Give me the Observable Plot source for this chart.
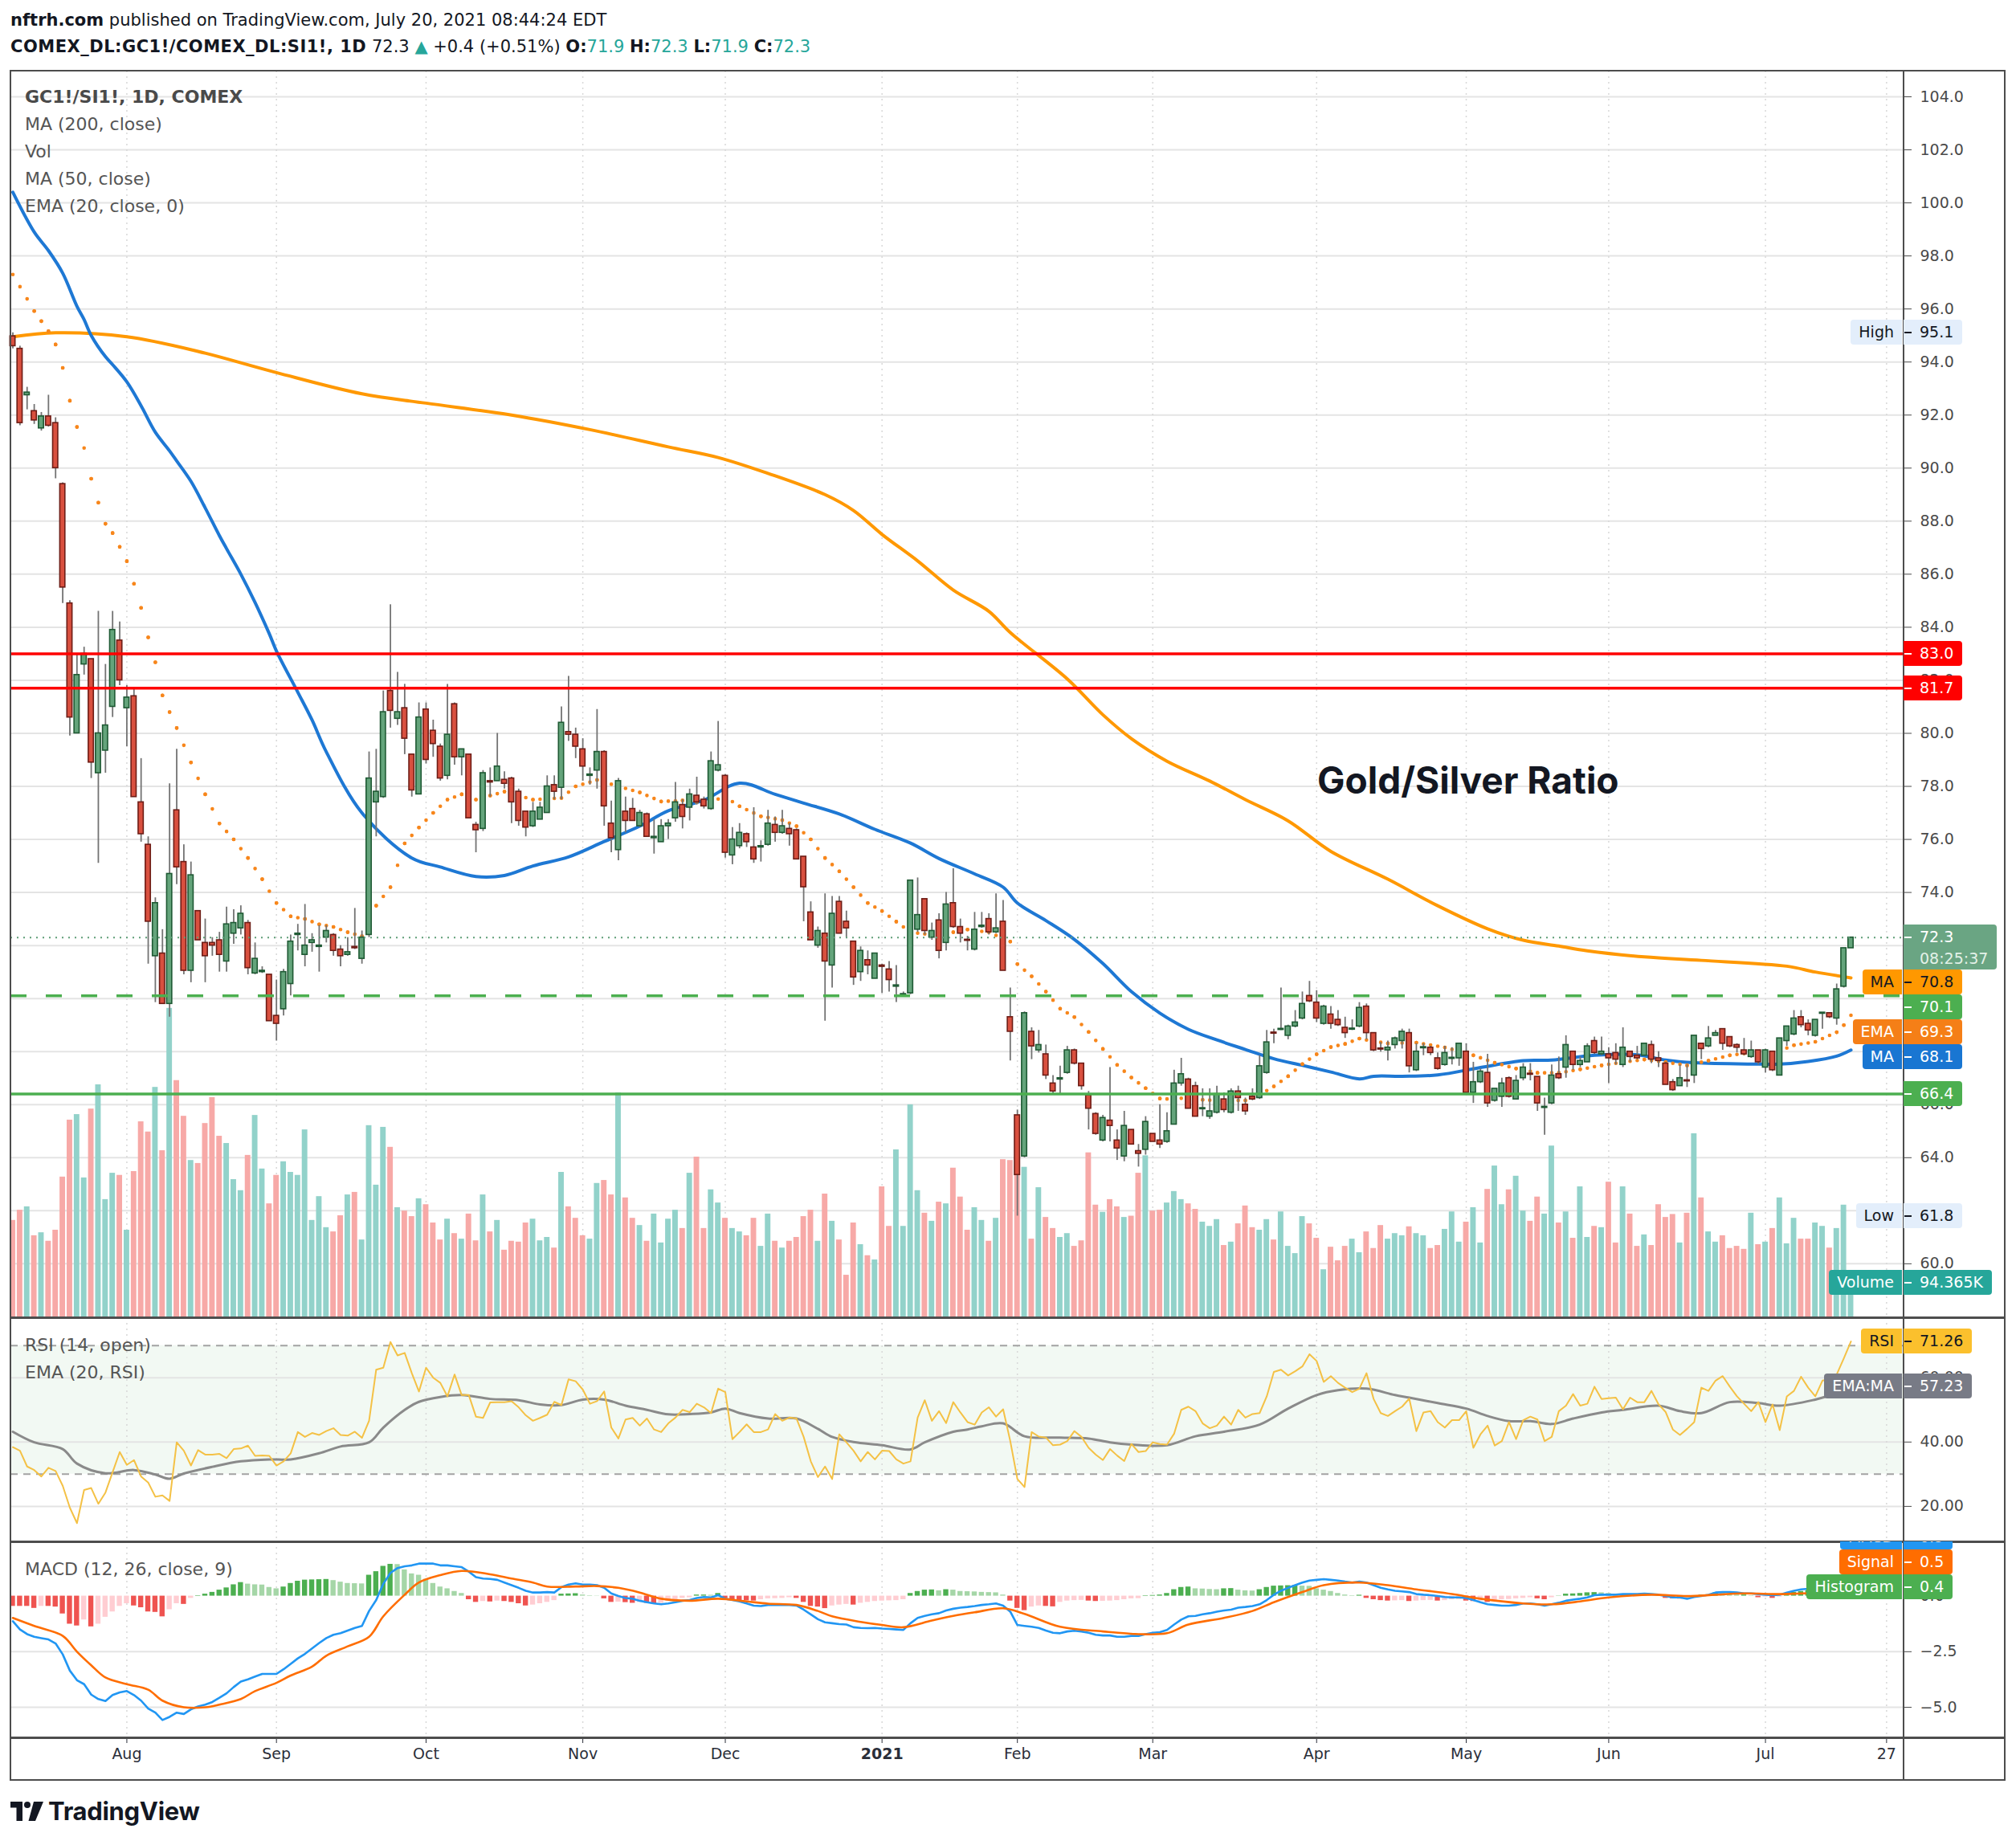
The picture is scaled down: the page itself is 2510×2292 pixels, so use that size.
<!DOCTYPE html>
<html>
<head>
<meta charset="utf-8">
<title>Gold/Silver Ratio</title>
<script src="https://cdn.jsdelivr.net/npm/d3@7"></script>
<script src="https://cdn.jsdelivr.net/npm/@observablehq/plot@0.6"></script>
<style>
html,body{margin:0;padding:0;background:#fff;}
#page{position:relative;width:2510px;height:2292px;overflow:hidden;font-family:"DejaVu Sans",Verdana,sans-serif;color:#131722;}
</style>
</head>
<body>
<div id="page"></div>
<script>
// ---------------- DATA ----------------
const OPEN = [
94.97,94.5,92.75,92.15,91.5,91.95,91.7,89.4,84.9,80.0,
82.6,82.8,78.5,79.35,81.0,83.5,80.95,81.4,77.4,75.8,
71.6,71.7,69.8,77.1,75.15,71.05,73.3,72.1,72.1,72.2,
71.4,72.45,72.65,72.85,70.95,71.0,70.9,69.35,69.6,70.55,
72.4,71.65,72.1,71.95,72.3,72.4,71.85,71.65,71.95,71.5,
72.4,77.4,77.6,81.6,80.55,80.95,79.2,77.7,80.9,80.1,
79.5,78.4,81.1,79.1,79.2,76.55,76.4,78.2,78.2,78.25,
78.3,77.8,77.05,76.5,76.75,77.0,78.05,77.95,80.05,79.95,
79.4,78.4,78.6,79.3,76.6,75.6,77.05,77.15,76.5,76.95,
76.05,75.9,76.5,76.8,77.3,77.2,77.65,77.5,77.15,78.6,
78.4,75.4,75.75,76.2,75.7,75.7,75.8,76.55,76.25,76.4,
76.35,75.35,73.25,72.0,72.45,71.25,73.65,72.9,72.15,71.0,
71.45,70.75,71.25,71.1,70.45,70.12,70.2,72.6,73.75,72.3,
72.95,72.1,73.6,72.7,72.22,71.85,72.7,73.0,72.5,72.9,
69.3,65.6,64.05,68.75,68.05,67.9,66.8,66.95,67.2,68.05,
67.55,66.35,65.65,64.65,65.4,64.65,64.05,65.05,64.25,64.3,
64.9,64.65,64.6,65.25,66.8,66.95,66.7,65.83,65.55,65.7,
66.2,65.7,66.5,66.0,66.3,66.25,67.2,68.72,68.82,68.6,
68.95,69.25,70.1,69.85,69.05,69.4,69.2,68.9,68.83,68.95,
69.7,68.7,68.12,68.05,68.25,68.4,68.7,67.3,68.13,68.15,
67.75,67.5,67.73,67.75,68.0,66.45,66.85,67.2,66.15,66.3,
67.0,66.2,67.0,67.17,67.05,65.88,66.05,67.15,67.4,68.0,
67.5,67.6,68.4,67.9,67.9,67.95,67.5,68.0,67.85,67.85,
68.25,67.75,67.55,66.85,66.7,66.92,67.1,68.3,68.2,68.6,
68.85,68.55,68.25,68.05,67.8,68.05,67.4,68.0,67.1,68.4,
68.65,69.3,69.05,68.6,69.43,69.45,69.25,70.45,71.9];
const HIGH = [
95.1,94.6,93.05,92.4,92.1,92.75,91.9,89.45,85.0,83.0,
83.25,82.8,84.6,82.6,84.6,84.2,81.8,81.7,79.05,76.1,
73.8,72.6,78.1,79.4,75.8,75.15,73.3,73.0,72.3,72.5,
73.45,73.35,73.5,72.95,72.1,71.2,70.9,70.7,71.1,72.4,
72.8,73.55,72.45,72.75,72.75,72.45,72.0,72.3,73.4,72.55,
79.3,79.4,81.6,84.85,82.3,81.85,79.2,81.15,81.15,80.5,
79.6,81.85,81.15,79.4,79.2,76.65,78.6,78.7,80.0,78.55,
78.35,77.9,77.05,77.4,77.4,78.4,78.4,81.0,82.15,80.2,
79.8,78.7,80.9,79.35,77.45,78.3,77.6,77.55,77.1,77.0,
76.75,76.75,76.75,78.15,77.5,77.9,78.35,77.6,79.3,80.45,
78.45,76.45,76.6,76.25,77.2,75.95,77.1,76.85,77.1,76.6,
76.4,75.35,73.65,72.7,73.95,73.85,73.85,73.3,72.15,71.95,
71.8,71.7,71.3,71.4,71.25,70.25,74.45,74.55,73.75,72.85,
73.2,74.0,74.9,73.0,72.35,73.25,73.25,73.2,73.95,73.7,
70.4,65.8,69.5,68.9,68.8,68.25,67.1,67.45,68.2,68.1,
67.55,66.5,65.7,65.6,67.4,65.05,65.75,65.05,64.5,65.55,
64.9,66.0,65.7,67.3,67.75,67.0,66.85,66.6,66.6,66.7,
66.45,66.6,66.7,66.25,66.6,67.85,68.8,68.85,70.4,69.0,
69.55,70.25,70.65,70.3,69.75,69.7,69.55,69.3,69.2,69.85,
69.8,68.7,68.35,68.4,68.55,68.85,68.85,68.3,68.3,68.2,
67.95,68.2,68.15,68.3,68.3,67.6,67.35,67.9,66.6,67.0,
67.05,67.1,67.55,67.55,67.05,66.25,67.5,67.8,68.6,68.0,
67.8,68.3,68.55,68.55,68.15,68.3,68.9,68.0,68.2,68.3,
68.4,68.0,67.6,66.95,67.5,67.5,68.6,68.3,68.95,68.8,
68.85,68.55,68.3,68.5,68.4,68.05,68.1,68.0,68.5,68.95,
69.55,69.55,69.2,69.2,69.47,69.47,70.55,71.9,72.3];
const LOW = [
94.5,91.6,92.2,91.65,91.4,91.55,89.6,84.9,79.9,80.0,
82.2,78.3,75.1,78.5,80.6,81.8,79.5,77.6,75.9,71.3,
69.85,69.8,69.3,74.3,70.9,70.6,72.2,70.6,71.6,71.0,
71.0,72.05,72.4,70.9,70.9,70.95,69.15,68.4,69.35,70.1,
71.8,71.2,71.75,71.0,72.1,71.6,71.2,71.6,71.85,71.3,
72.3,76.1,77.55,80.2,80.3,79.2,77.6,77.7,78.85,79.1,
78.2,78.25,78.8,78.4,76.8,75.5,76.3,77.6,78.2,77.9,
76.6,76.5,76.1,76.45,76.75,77.0,77.5,77.5,79.7,79.05,
78.2,78.05,77.9,76.5,75.5,75.2,76.25,76.7,76.45,76.1,
75.45,75.9,76.0,76.65,76.4,76.7,77.3,77.15,77.1,78.55,
75.3,75.05,75.65,75.7,75.1,75.15,75.75,75.9,76.2,75.75,
75.25,72.9,72.2,71.9,69.15,70.4,72.45,72.3,70.5,70.65,
70.9,70.75,70.2,70.25,69.85,70.1,70.15,72.5,72.4,72.2,
71.5,71.8,72.65,72.1,71.8,71.8,72.65,72.4,72.45,71.05,
67.65,61.8,64.0,67.7,67.95,66.95,66.4,66.4,67.15,67.5,
66.55,65.05,64.85,64.6,64.6,63.9,63.85,64.5,63.65,64.1,
64.6,64.35,64.55,65.25,66.7,65.85,65.55,65.55,65.45,65.65,
65.7,65.65,65.75,65.6,66.15,66.2,67.15,68.3,68.8,68.45,
68.9,69.2,69.85,69.1,69.0,68.85,68.95,68.5,68.8,68.9,
68.45,68.0,67.98,67.65,68.1,68.1,67.2,67.25,67.85,67.85,
67.3,67.45,67.5,67.45,66.45,66.05,66.8,65.9,66.1,65.9,
66.25,66.2,66.9,66.9,65.75,64.85,66.0,66.95,67.0,67.3,
67.4,67.6,67.9,67.85,66.8,67.5,67.4,67.6,67.7,67.85,
67.55,67.4,66.75,66.5,66.7,66.65,66.8,67.7,68.15,68.6,
68.05,68.15,67.95,67.85,67.75,67.5,67.2,67.25,67.1,68.2,
68.6,68.9,68.6,68.55,68.85,69.25,69.0,70.4,71.9];
const CLOSE = [
94.6,91.7,92.85,91.8,91.95,91.6,90.0,85.5,80.6,82.2,
83.0,78.9,80.0,80.3,83.9,82.0,81.35,77.6,76.2,72.9,
73.6,69.8,74.7,74.95,71.05,74.65,72.2,71.6,72.0,71.65,
72.8,72.85,73.2,71.15,71.5,71.05,69.15,69.05,71.0,72.15,
72.45,72.0,72.2,72.0,72.55,71.8,71.6,71.75,71.9,72.3,
78.3,77.8,80.8,80.85,80.8,79.8,77.85,80.6,79.0,79.6,
78.3,79.95,79.1,79.4,76.8,76.35,78.5,78.15,78.75,78.1,
77.4,76.7,76.45,77.05,77.2,78.0,77.8,80.4,79.95,79.5,
78.75,78.45,79.3,77.25,76.05,78.2,76.7,76.7,77.0,76.1,
76.1,76.5,76.6,77.4,76.85,77.7,77.4,77.25,78.95,78.8,
75.5,76.0,76.25,75.9,75.25,75.75,76.6,76.25,76.5,76.2,
75.25,74.2,72.2,72.55,71.4,73.2,72.45,72.65,70.8,71.8,
71.25,71.7,71.2,70.7,70.5,70.17,74.45,73.15,72.55,72.55,
71.8,73.55,72.7,72.45,72.18,72.6,72.75,72.5,72.65,71.05,
68.75,63.35,69.45,68.2,68.25,67.1,66.5,67.0,68.05,67.55,
66.7,65.85,64.9,65.5,65.2,64.35,65.2,64.5,64.15,65.35,
64.6,64.5,65.0,66.8,67.15,65.85,65.55,65.87,65.75,66.4,
65.8,66.5,66.25,65.75,66.2,67.45,68.35,68.68,68.86,68.95,
69.1,69.8,69.9,69.25,69.7,69.05,69.0,68.7,68.87,69.65,
68.7,68.05,68.08,68.15,68.5,68.75,67.45,68.0,68.17,67.95,
67.35,67.95,67.77,68.3,66.45,66.85,67.25,66.05,66.6,66.8,
66.3,66.9,67.4,67.13,66.05,65.92,67.1,67.0,68.25,67.5,
67.65,68.2,67.95,68.0,67.75,67.7,68.15,67.8,67.75,68.3,
67.7,67.65,66.75,66.55,67.0,66.88,68.6,68.1,68.5,68.7,
68.3,68.2,68.15,67.9,68.05,67.6,68.05,67.3,68.5,68.95,
69.25,69.0,68.8,69.2,69.47,69.3,70.35,71.9,72.3];
// volume, thousands
const VOLUME = [
229,253,261,193,200,180,206,331,465,478,
329,491,548,278,340,335,206,344,461,437,
542,393,728,558,474,370,363,457,518,427,
410,325,299,382,476,350,268,335,367,342,
335,442,229,285,212,202,240,289,295,183,
452,312,448,401,259,251,238,280,266,223,
183,232,198,185,244,181,289,202,229,159,
180,178,223,232,181,189,164,342,261,234,
193,185,316,323,289,529,282,234,217,180,
244,176,232,253,210,340,378,210,301,270,
234,210,202,193,234,168,244,180,164,180,
189,238,253,180,291,227,183,100,223,172,
146,136,308,215,395,215,501,299,246,227,
272,268,352,284,206,259,229,180,234,372,
370,357,354,185,306,236,210,189,198,168,
181,388,265,248,278,261,236,239,340,381,
251,253,270,297,278,268,255,225,215,231,
170,178,221,263,212,206,231,183,249,168,
151,238,221,187,113,166,134,168,185,153,
202,163,217,185,198,193,214,198,193,163,
170,208,249,178,225,259,176,302,357,266,
301,333,251,227,284,244,404,223,249,187,
308,189,215,212,319,176,308,244,168,195,
170,266,236,243,176,246,433,282,202,178,
193,163,168,161,246,172,178,210,282,174,
234,185,185,223,215,164,210,265,94.365];
// moving averages sampled at bar indexes
const MA200_IDX = [0,6,16,26,37,49,58,70,81,92,99,106,114,118,122,127,132,137,140,148,153,157,162,168,173,179,185,193,200,207,212,217,221,229,237,249,253,258];
const MA200_VAL = [94.95,95.1,94.95,94.4,93.6,92.8,92.45,92.0,91.45,90.8,90.4,89.8,89.0,88.4,87.5,86.5,85.4,84.6,83.8,82.05,80.7,79.8,78.95,78.2,77.5,76.7,75.55,74.5,73.5,72.63,72.2,71.98,71.8,71.57,71.44,71.22,71.0,70.78];
const MA50_IDX = [0,3,5,7,9,10,11,13,14,16,18,20,22,23,25,27,29,30,32,34,36,37,40,42,44,49,56,60,65,69,73,78,83,88,92,97,102,107,111,116,121,126,130,135,139,141,145,149,153,157,161,165,169,173,177,181,185,189,191,195,200,206,212,216,222,228,232,236,244,248,252,256,258];
const MA50_VAL = [100.4,98.9,98.2,97.35,96.1,95.6,95.0,94.2,93.9,93.25,92.35,91.35,90.65,90.27,89.5,88.5,87.45,86.96,86.0,84.93,83.75,83.1,81.55,80.5,79.3,77.0,75.3,74.96,74.6,74.64,75.0,75.34,75.92,76.5,77.08,77.48,78.12,77.7,77.37,76.96,76.38,75.86,75.28,74.7,74.2,73.6,72.94,72.23,71.32,70.26,69.45,68.84,68.44,68.08,67.73,67.48,67.23,66.97,67.07,67.07,67.12,67.4,67.66,67.68,67.86,67.88,67.68,67.58,67.53,67.53,67.63,67.83,68.06];
const EMA20_IDX = [0,3,4,5,6,7,8,9,10,11,12,13,14,15,16,17,18,19,20,21,22,23,25,27,29,31,33,35,37,39,41,43,45,47,49,51,53,55,57,59,61,63,65,67,69,73,77,79,82,85,88,91,94,97,100,102,105,108,110,112,114,116,118,120,122,124,126,129,132,134,137,140,141,143,145,147,149,151,153,155,157,159,161,163,165,167,169,171,173,175,177,179,181,183,185,187,189,191,193,197,201,205,208,211,214,217,220,223,226,229,232,235,238,241,244,247,250,253,256,257,258];
const EMA20_VAL = [97.3,95.92,95.54,95.16,94.66,93.78,92.54,91.55,90.76,89.6,88.7,87.9,87.55,87.03,86.49,85.64,84.73,83.62,82.68,81.43,80.8,80.2,78.9,77.7,76.6,76.0,75.3,74.5,73.6,73.1,73.0,72.8,72.7,72.5,72.35,73.5,74.2,75.85,76.45,77.0,77.5,77.7,77.5,77.65,77.8,77.5,77.56,78.0,78.24,78.0,77.77,77.43,77.47,77.37,77.6,77.25,76.87,76.73,76.5,76.0,75.3,74.8,74.2,73.6,73.3,72.9,72.5,72.4,72.5,72.6,72.5,72.15,71.3,70.84,70.26,69.62,69.3,68.74,68.1,67.5,67.02,66.62,66.23,66.2,66.28,66.18,66.16,66.16,66.16,66.37,66.69,67.07,67.53,67.9,68.17,68.29,68.49,68.39,68.31,68.34,68.16,67.86,67.58,67.36,67.2,67.2,67.33,67.48,67.6,67.7,67.6,67.48,67.66,67.86,67.96,67.93,68.24,68.37,68.73,69.0,69.37];
// RSI(14, open) per bar and its EMA(20) sampled
const RSI = [
38.4,37.3,32.4,31.3,29.3,32.0,31.0,26.4,19.6,14.8,
25.1,25.7,20.8,24.3,30.6,36.9,32.9,34.4,29.3,27.4,
23.0,23.4,21.7,39.9,37.3,32.7,37.5,36.1,36.1,36.3,
35.0,37.8,38.0,38.9,35.7,35.8,35.7,32.7,34.0,36.5,
43.1,41.6,42.8,42.2,43.4,44.3,42.2,42.0,43.2,41.3,
46.6,62.5,63.1,71.1,66.9,67.7,61.4,55.7,63.1,60.0,
58.4,54.2,61.0,54.6,54.6,47.9,47.5,52.3,52.4,52.4,
52.7,50.8,48.3,46.6,47.5,48.5,52.5,51.5,59.5,58.9,
56.3,51.9,52.7,55.7,44.5,41.1,47.0,47.5,45.1,47.3,
43.9,43.1,45.8,47.6,50.0,49.3,51.9,50.8,49.0,56.6,
55.5,40.9,43.1,45.5,43.1,43.1,43.9,48.7,46.6,47.6,
47.3,41.6,34.0,29.1,32.4,28.5,42.4,39.9,37.3,34.0,
36.9,34.6,37.3,37.2,34.6,33.3,34.0,47.6,53.0,46.6,
49.6,45.9,52.4,49.2,46.2,45.4,49.2,50.8,47.9,50.2,
40.3,28.5,26.0,43.1,41.7,41.4,39.0,39.2,40.3,43.4,
41.6,38.2,36.1,34.4,37.8,35.8,34.1,39.4,36.9,37.2,
39.9,39.4,39.2,42.6,50.0,51.0,49.6,45.8,44.3,45.1,
47.9,45.4,50.0,47.6,48.7,49.0,54.2,61.8,62.5,60.7,
62.0,63.5,67.3,65.2,58.7,60.5,58.4,56.9,55.5,56.6,
61.4,53.4,49.0,48.1,49.6,51.0,53.5,43.4,49.2,49.6,
46.2,44.5,46.8,46.8,49.6,38.2,42.4,45.1,38.9,40.3,
46.2,40.9,46.8,47.9,47.0,40.3,41.6,49.6,51.3,54.9,
51.3,51.9,57.2,53.4,53.6,53.8,50.2,53.8,52.4,52.4,
55.9,51.7,49.3,43.9,42.2,44.1,46.2,56.9,55.9,59.1,
60.5,57.2,54.2,51.9,49.6,52.4,46.2,51.7,43.7,54.2,
55.9,60.3,56.9,54.2,59.1,59.5,61.0,66.0,71.26];
const RSI_EMA_IDX = [0,3,7,9,13,17,20,22,24,28,32,36,39,43,46,50,52,55,57,60,63,67,71,74,77,80,83,86,89,92,95,98,100,102,106,110,113,115,118,122,126,128,132,134,136,139,142,147,151,154,157,162,166,170,175,179,183,186,190,194,196,200,204,207,210,213,216,219,223,226,231,234,237,241,245,248,253,254,255,256,257,258];
const RSI_EMA_VAL = [43.2,39.9,37.8,33.3,30.3,31.3,29.9,28.6,30.2,32.3,34.0,34.6,34.6,36.5,38.6,39.9,44.5,50.0,52.5,54.0,54.6,53.4,53.0,51.7,51.5,53.2,53.2,51.3,50.0,48.6,48.7,49.2,50.4,49.0,47.3,47.3,44.1,41.6,40.0,39.0,37.7,39.9,43.2,43.9,44.9,45.8,41.8,41.4,41.1,39.9,39.2,39.0,41.8,43.2,45.4,50.4,54.6,56.1,56.6,54.6,53.8,52.1,50.4,48.1,46.5,46.5,45.6,47.3,49.2,50.0,51.3,49.6,49.0,52.4,52.1,51.3,53.2,53.8,54.5,55.3,56.2,57.23];
// MACD(12,26,9)
const MACD = [
-1.13,-1.50,-1.71,-1.83,-1.89,-1.95,-2.13,-2.62,-3.35,-3.78,
-3.96,-4.43,-4.63,-4.72,-4.45,-4.33,-4.27,-4.45,-4.70,-5.06,
-5.24,-5.57,-5.43,-5.24,-5.30,-5.09,-4.96,-4.88,-4.76,-4.57,
-4.37,-4.09,-3.84,-3.74,-3.62,-3.50,-3.50,-3.50,-3.29,-3.05,
-2.80,-2.60,-2.35,-2.11,-1.89,-1.74,-1.67,-1.55,-1.43,-1.34,
-0.67,-0.18,0.55,1.04,1.26,1.34,1.38,1.46,1.46,1.46,
1.38,1.38,1.34,1.30,1.10,0.85,0.79,0.77,0.73,0.61,
0.49,0.37,0.24,0.16,0.16,0.18,0.16,0.40,0.52,0.57,
0.52,0.52,0.49,0.37,0.12,0.00,-0.09,-0.12,-0.21,-0.28,
-0.33,-0.37,-0.33,-0.28,-0.21,-0.18,-0.09,-0.04,-0.06,0.04,
-0.12,-0.18,-0.24,-0.33,-0.43,-0.45,-0.40,-0.40,-0.40,-0.40,
-0.43,-0.61,-0.82,-1.04,-1.18,-1.22,-1.26,-1.28,-1.40,-1.43,
-1.44,-1.43,-1.46,-1.48,-1.50,-1.52,-1.22,-0.98,-0.89,-0.82,
-0.77,-0.65,-0.57,-0.52,-0.49,-0.45,-0.40,-0.37,-0.33,-0.43,
-0.70,-1.30,-1.34,-1.38,-1.43,-1.55,-1.65,-1.67,-1.59,-1.56,
-1.59,-1.65,-1.74,-1.77,-1.77,-1.83,-1.83,-1.79,-1.79,-1.71,
-1.65,-1.62,-1.52,-1.28,-1.06,-0.91,-0.89,-0.82,-0.77,-0.70,
-0.65,-0.61,-0.52,-0.49,-0.45,-0.37,-0.18,0.06,0.24,0.37,
0.49,0.61,0.70,0.73,0.76,0.73,0.70,0.65,0.61,0.65,
0.61,0.49,0.37,0.30,0.24,0.21,0.18,0.09,0.06,0.04,
0.00,-0.04,-0.06,-0.06,-0.09,-0.18,-0.28,-0.37,-0.40,-0.43,
-0.43,-0.40,-0.33,-0.33,-0.37,-0.43,-0.37,-0.30,-0.21,-0.16,
-0.12,-0.06,0.04,0.06,0.06,0.06,0.09,0.09,0.09,0.11,
0.09,0.06,0.00,-0.06,-0.06,-0.12,-0.04,0.00,0.06,0.16,
0.18,0.18,0.16,0.12,0.12,0.09,0.06,0.04,0.06,0.16,
0.24,0.30,0.33,0.38,0.42,0.48,0.58,0.74,0.90];
const SIGNAL_IDX = [0,3,7,9,11,13,16,19,21,24,27,29,32,34,37,39,42,44,47,50,52,55,57,60,63,67,70,73,75,79,82,85,88,91,95,99,103,106,110,113,115,119,122,125,129,132,135,139,142,147,153,158,162,165,170,174,177,181,184,189,193,197,202,206,212,216,220,224,230,235,239,243,248,251,254,256,257,258];
const SIGNAL_VAL = [-0.98,-1.34,-1.79,-2.5,-3.11,-3.66,-3.96,-4.21,-4.70,-5.0,-5.0,-4.88,-4.63,-4.27,-3.90,-3.57,-3.17,-2.68,-2.26,-1.83,-0.91,0.06,0.61,0.94,1.13,0.98,0.79,0.61,0.43,0.43,0.45,0.37,0.16,-0.12,-0.21,-0.12,-0.24,-0.34,-0.40,-0.67,-0.91,-1.16,-1.30,-1.40,-1.10,-0.89,-0.73,-0.55,-0.80,-1.38,-1.59,-1.71,-1.67,-1.28,-0.98,-0.67,-0.28,0.18,0.49,0.61,0.49,0.30,0.09,-0.12,-0.33,-0.37,-0.24,-0.06,0.06,0.0,0.06,0.12,0.09,0.12,0.14,0.23,0.36,0.5];
const HIST = [
-0.46,-0.46,-0.46,-0.55,-0.46,-0.46,-0.49,-0.80,-1.26,-1.34,
-1.07,-1.38,-1.26,-0.95,-0.71,-0.46,-0.34,-0.44,-0.52,-0.71,
-0.73,-0.93,-0.61,-0.34,-0.37,-0.10,0.02,0.09,0.17,0.27,
0.37,0.51,0.61,0.54,0.51,0.50,0.39,0.33,0.41,0.57,
0.67,0.72,0.73,0.74,0.75,0.70,0.63,0.57,0.56,0.55,
0.94,1.10,1.34,1.43,1.42,1.18,1.00,0.94,0.76,0.57,
0.41,0.33,0.21,0.12,-0.16,-0.28,-0.24,-0.26,-0.22,-0.24,
-0.28,-0.34,-0.44,-0.40,-0.34,-0.28,-0.20,0.09,0.10,0.11,
0.05,0.02,0.01,-0.12,-0.28,-0.27,-0.29,-0.32,-0.28,-0.32,
-0.34,-0.32,-0.24,-0.16,-0.10,-0.07,0.05,0.05,0.04,0.12,
-0.10,-0.16,-0.20,-0.21,-0.22,-0.16,-0.12,-0.11,-0.10,-0.07,
-0.10,-0.28,-0.46,-0.49,-0.56,-0.44,-0.40,-0.37,-0.40,-0.32,
-0.28,-0.24,-0.22,-0.21,-0.20,-0.16,0.12,0.21,0.27,0.28,
0.24,0.29,0.27,0.21,0.20,0.19,0.17,0.16,0.15,0.05,
-0.22,-0.55,-0.65,-0.49,-0.44,-0.46,-0.48,-0.28,-0.22,-0.20,
-0.19,-0.22,-0.24,-0.23,-0.22,-0.20,-0.16,-0.12,-0.11,0.02,
0.03,0.05,0.12,0.29,0.39,0.41,0.33,0.32,0.30,0.29,
0.33,0.34,0.27,0.24,0.23,0.29,0.39,0.45,0.46,0.47,
0.48,0.45,0.44,0.33,0.27,0.21,0.12,0.05,0.02,0.04,
-0.10,-0.16,-0.20,-0.22,-0.21,-0.20,-0.24,-0.22,-0.20,-0.19,
-0.22,-0.20,-0.16,-0.15,-0.22,-0.24,-0.22,-0.28,-0.20,-0.16,
-0.15,-0.12,-0.10,-0.07,-0.12,-0.16,-0.07,0.01,0.09,0.10,
0.12,0.15,0.16,0.15,0.12,0.09,0.07,0.05,0.04,0.02,
0.01,0.005,-0.10,-0.12,-0.13,-0.07,-0.03,0.05,0.04,0.15,
0.12,0.09,0.05,0.05,0.02,-0.07,-0.04,-0.10,-0.04,0.12,
0.17,0.21,0.25,0.28,0.30,0.32,0.35,0.38,0.40];
// horizontal levels drawn on the chart
const RED_LEVELS = [83.0, 81.7];
const GREEN_SOLID_LEVELS = [66.4];
const GREEN_DASHED_LEVELS = [70.1];
const LAST_PRICE = 72.3;
const SESSION_HIGH = 95.1, SESSION_LOW = 61.8;
const LAST_MA200 = 70.8, LAST_EMA20 = 69.3, LAST_MA50 = 68.1;
const LAST_RSI = 71.26, LAST_RSI_EMA = 57.23;
const LAST_MACD = 0.9, LAST_SIGNAL = 0.5, LAST_HIST = 0.4;
const LAST_VOLUME_TEXT = "94.365K";
const COUNTDOWN = "08:25:37";
// axis ticks
const PRICE_TICKS = d3.range(60, 104.01, 2);
const RSI_TICKS = [20, 40, 60];
const RSI_ZONE = [30, 70];
const MACD_TICKS = [0, -2.5, -5.0];
// calendar (trading days) for the time axis
const FIRST_DAY = "2020-07-10";
const HOLIDAYS = ["2020-09-07","2020-11-26","2020-12-25","2021-01-01","2021-01-18","2021-02-15","2021-04-02","2021-05-31","2021-07-05"];
const FUTURE_BARS = 5;
const MONTH_NAMES = ["Jan","Feb","Mar","Apr","May","Jun","Jul","Aug","Sep","Oct","Nov","Dec"];
// texts
const HEADER_1 = ["nftrh.com", " published on TradingView.com, July 20, 2021 08:44:24 EDT"];
const SYMBOL = "COMEX_DL:GC1!/COMEX_DL:SI1!, 1D";
const QUOTE = {last:"72.3", change:"+0.4 (+0.51%)", O:"71.9", H:"72.3", L:"71.9", C:"72.3"};
const LEGEND_MAIN = ["GC1!/SI1!, 1D, COMEX","MA (200, close)","Vol","MA (50, close)","EMA (20, close, 0)"];
const LEGEND_RSI = ["RSI (14, open)","EMA (20, RSI)"];
const LEGEND_MACD = ["MACD (12, 26, close, 9)"];
const ANNOTATION = "Gold/Silver Ratio";

// ---------------- LAYOUT / STYLE ----------------
const W = 2510, PLOT_L = 13, AXIS_X = 2370, FRAME_R = 2496;
const MAIN_TOP = 88, MAIN_H = 1552, RSI_TOP = 1640, RSI_H = 279, MACD_TOP = 1919, MACD_H = 297, TIME_H = 53;
const X_DOMAIN = [-0.282, 265.44];
const PRICE_DOMAIN = [57.967, 104.969];
const RSI_DOMAIN = [8.99, 78.65];
const MACD_DOMAIN = [-6.37, 2.44];
const VOL_PER_UNIT = 62.4; // volume (K) per price unit in the volume overlay
const FONT = '"DejaVu Sans", Verdana, sans-serif';
const GRID = "#e4e4e4", VGRID = "#d8d8d8", AXIS_TXT = "#4a4a4a", LINE_DARK = "#4d4d4d";
const LBL_FS = 19;

const page = document.getElementById("page");
function el(tag, css, html, parent) {
  const e = document.createElement(tag);
  e.style.cssText = css;
  if (html != null) e.innerHTML = html;
  (parent || page).appendChild(e);
  return e;
}

// ---------------- derived tables ----------------
const bars = CLOSE.map((c, i) => ({i, o: OPEN[i], h: HIGH[i], l: LOW[i], c, v: VOLUME[i], up: c >= OPEN[i]}));
const pairs = (idx, val) => idx.map((i, k) => ({i, v: val[k]}));
const ma200 = pairs(MA200_IDX, MA200_VAL);
const ma50 = pairs(MA50_IDX, MA50_VAL);
const ema20 = pairs(EMA20_IDX, EMA20_VAL);
const rsi = RSI.map((v, i) => ({i, v}));
const rsiEma = pairs(RSI_EMA_IDX, RSI_EMA_VAL);
const macd = MACD.map((v, i) => ({i, v}));
const signal = pairs(SIGNAL_IDX, SIGNAL_VAL);
const hist = HIST.map((v, i) => {
  const p = i > 0 ? HIST[i - 1] : v;
  const color = v >= 0 ? (v >= p ? "#4caf50" : "#a5d6a7") : (v <= p ? "#ef5350" : "#ffcdd2");
  return {i, v, color};
});

// trading calendar
const dates = [];
for (let d = new Date(FIRST_DAY + "T00:00:00Z"); dates.length < CLOSE.length + FUTURE_BARS; d.setUTCDate(d.getUTCDate() + 1)) {
  const wd = d.getUTCDay(), iso = d.toISOString().slice(0, 10);
  if (wd !== 0 && wd !== 6 && !HOLIDAYS.includes(iso)) dates.push(new Date(d));
}
const timeTicks = [];
dates.forEach((d, i) => {
  if (i > 0 && d.getUTCMonth() !== dates[i - 1].getUTCMonth())
    timeTicks.push({i, label: d.getUTCMonth() === 0 ? String(d.getUTCFullYear()) : MONTH_NAMES[d.getUTCMonth()]});
});
timeTicks.push({i: dates.length - 1, label: String(dates[dates.length - 1].getUTCDate())});
const tickIdx = timeTicks.map(t => t.i);
const tickLabel = new Map(timeTicks.map(t => [t.i, t.label]));

const base = {
  width: W, marginLeft: PLOT_L, marginRight: W - AXIS_X, marginTop: 0,
  x: {type: "linear", domain: X_DOMAIN, axis: null},
  style: {fontFamily: FONT, fontSize: LBL_FS + "px", color: AXIS_TXT, background: "transparent"}
};
const axisOpts = {anchor: "right", tickSize: 9, tickPadding: 11, fontSize: LBL_FS, color: AXIS_TXT, label: null};
const vgrid = () => Plot.ruleX(tickIdx, {stroke: VGRID, strokeWidth: 1.5, strokeDasharray: "2,5"});

// EMA(20) is drawn as one dot per bar: each sampled segment gets a dash gap equal to its on-screen length per bar
const pxPerBar = (AXIS_X - PLOT_L) / (X_DOMAIN[1] - X_DOMAIN[0]);
const pxPerUnit = MAIN_H / (PRICE_DOMAIN[1] - PRICE_DOMAIN[0]);
const emaMarks = [];
for (let k = 0; k + 1 < ema20.length; k++) {
  const a = ema20[k], b = ema20[k + 1];
  const steps = b.i - a.i;
  const gap = Math.hypot(steps * pxPerBar, (b.v - a.v) * pxPerUnit) / steps;
  emaMarks.push(Plot.line([a, b], {x: "i", y: "v", stroke: "#f7861b", strokeWidth: 4.6, strokeLinecap: "round",
    strokeDasharray: `0,${(gap - 0.001).toFixed(3)}`}));
}

// ---------------- MAIN PANE ----------------
const mainPlot = Plot.plot({
  ...base, height: MAIN_H, marginBottom: 0,
  y: {domain: PRICE_DOMAIN, axis: null},
  marks: [
    Plot.ruleY(PRICE_TICKS, {stroke: GRID, strokeWidth: 2}),
    vgrid(),
    Plot.rect(bars, {x1: d => d.i - 0.39, x2: d => d.i + 0.39, y1: () => PRICE_DOMAIN[0], y2: d => PRICE_DOMAIN[0] + d.v / VOL_PER_UNIT,
      fill: d => d.up ? "#92d2ca" : "#f7a9a7"}),
    Plot.line(ma200, {x: "i", y: "v", stroke: "#ff9800", strokeWidth: 4, curve: "catmull-rom"}),
    Plot.line(ma50, {x: "i", y: "v", stroke: "#1e78d4", strokeWidth: 4, curve: "catmull-rom"}),
    ...emaMarks,
    Plot.ruleX(bars, {x: "i", y1: "l", y2: "h", stroke: "#737373", strokeWidth: 1.8}),
    Plot.rect(bars, {x1: d => d.i - 0.36, x2: d => d.i + 0.36, y1: "o", y2: "c",
      fill: d => d.up ? "#64a47b" : "#d9503f", stroke: d => d.up ? "#1f5a34" : "#6e1d16", strokeWidth: 1.6}),
    Plot.ruleY(RED_LEVELS, {stroke: "#ff0000", strokeWidth: 3.5}),
    Plot.ruleY(GREEN_SOLID_LEVELS, {stroke: "#4caf50", strokeWidth: 3.5}),
    Plot.ruleY(GREEN_DASHED_LEVELS, {stroke: "#4caf50", strokeWidth: 3.5, strokeDasharray: "20,24"}),
    Plot.ruleY([LAST_PRICE], {stroke: "#5f9e78", strokeWidth: 2, strokeDasharray: "2,6"}),
    Plot.axisY(PRICE_TICKS, {...axisOpts, tickFormat: d3.format(".1f")})
  ]
});

// ---------------- RSI PANE ----------------
const rsiPlot = Plot.plot({
  ...base, height: RSI_H, marginBottom: 0,
  y: {domain: RSI_DOMAIN, axis: null},
  marks: [
    Plot.rect([RSI_ZONE], {x1: () => X_DOMAIN[0], x2: () => X_DOMAIN[1], y1: d => d[0], y2: d => d[1], fill: "#4caf50", fillOpacity: 0.07}),
    Plot.ruleY(RSI_TICKS, {stroke: GRID, strokeWidth: 2}),
    vgrid(),
    Plot.ruleY(RSI_ZONE, {stroke: "#a3a3a3", strokeWidth: 2, strokeDasharray: "9,7"}),
    Plot.line(rsiEma, {x: "i", y: "v", stroke: "#8a8a8a", strokeWidth: 3, curve: "catmull-rom"}),
    Plot.line(rsi, {x: "i", y: "v", stroke: "#f4c145", strokeWidth: 2}),
    Plot.axisY(RSI_TICKS, {...axisOpts, tickFormat: d3.format(".2f")})
  ]
});

// ---------------- MACD PANE + TIME AXIS ----------------
const macdPlot = Plot.plot({
  ...base, height: MACD_H, marginBottom: TIME_H,
  y: {domain: MACD_DOMAIN, axis: null},
  marks: [
    Plot.ruleY(MACD_TICKS.filter(t => t !== 0), {stroke: GRID, strokeWidth: 2}),
    vgrid(),
    Plot.rect(hist, {x1: d => d.i - 0.36, x2: d => d.i + 0.36, y1: () => 0, y2: "v", fill: "color"}),
    Plot.line(macd, {x: "i", y: "v", stroke: "#2196f3", strokeWidth: 2.6}),
    Plot.line(signal, {x: "i", y: "v", stroke: "#ff6d00", strokeWidth: 2.6, curve: "catmull-rom"}),
    Plot.axisY(MACD_TICKS, {...axisOpts, tickFormat: d3.format(".1f")}),
    Plot.axisX(tickIdx, {anchor: "bottom", tickSize: 7, tickPadding: 6, fontSize: LBL_FS, color: "#2a2e39", label: null,
      tickFormat: i => tickLabel.get(i)})
  ]
});
macdPlot.querySelectorAll("text").forEach(t => { if (t.textContent === "2021") t.setAttribute("font-weight", "bold"); });

function mount(node, top) {
  const wrap = el("div", `position:absolute;left:0;top:${top}px;width:${W}px;`);
  node.style.display = "block";
  wrap.appendChild(node);
}
mount(mainPlot, MAIN_TOP);
mount(rsiPlot, RSI_TOP);
mount(macdPlot, MACD_TOP);

// ---------------- frame lines ----------------
el("div", `position:absolute;left:12px;top:87px;width:${FRAME_R - 12 + 1}px;height:${2217 - 87}px;border:2px solid ${LINE_DARK};box-sizing:border-box;`);
el("div", `position:absolute;left:${AXIS_X - 1}px;top:88px;width:2px;height:${2216 - 88}px;background:${LINE_DARK};`);
[RSI_TOP - 1, MACD_TOP - 1, MACD_TOP + MACD_H - TIME_H - 1].forEach(y =>
  el("div", `position:absolute;left:12px;top:${y}px;width:${FRAME_R - 12 + 1}px;height:3px;background:${LINE_DARK};`));

// ---------------- right-axis value labels ----------------
function drawLabels(top, height, items, dir) {
  const box = el("div", `position:absolute;left:0;top:${top}px;width:${W}px;height:${height}px;overflow:hidden;`);
  const L = items.map(it => ({...it, hh: it.sub ? 56 : 31, t: it.y - 15.5}));
  if (dir === "down") {
    L.sort((a, b) => a.t - b.t);
    for (let k = 1; k < L.length; k++) if (L[k].t < L[k - 1].t + L[k - 1].hh) L[k].t = L[k - 1].t + L[k - 1].hh;
  } else {
    L.sort((a, b) => b.t - a.t);
    for (let k = 1; k < L.length; k++) if (L[k].t + L[k].hh > L[k - 1].t) L[k].t = L[k - 1].t - L[k].hh;
  }
  for (const p of L) {
    if (p.name) {
      el("div", `position:absolute;right:${W - AXIS_X + 2}px;top:${p.t}px;height:31px;line-height:31px;padding:0 10px;background:${p.bg};color:${p.fg};border-radius:4px 0 0 4px;font-size:${LBL_FS}px;white-space:nowrap;`, p.name, box);
    }
    const html = p.sub ? `${p.text}<div style="line-height:22px;color:${p.subfg}">${p.sub}</div>` : p.text;
    const vb = el("div", `position:absolute;left:${AXIS_X}px;top:${p.t}px;height:${p.hh}px;line-height:31px;padding:0 11px 0 20px;background:${p.bg};color:${p.fg};border-radius:0 4px 4px 0;font-size:${LBL_FS}px;white-space:nowrap;box-sizing:border-box;`, html, box);
    el("div", `position:absolute;left:1px;top:15px;width:9px;height:2px;background:${p.fg};`, null, vb);
  }
}
const yMain = mainPlot.scale("y"), yRsi = rsiPlot.scale("y"), yMacd = macdPlot.scale("y");
const f1 = d3.format(".1f"), f2 = d3.format(".2f");
drawLabels(MAIN_TOP, MAIN_H, [
  {y: yMain.apply(SESSION_HIGH), name: "High", text: f1(SESSION_HIGH), bg: "#e3eefb", fg: "#131722"},
  {y: yMain.apply(RED_LEVELS[0]), text: f1(RED_LEVELS[0]), bg: "#ff0000", fg: "#fff"},
  {y: yMain.apply(RED_LEVELS[1]), text: f1(RED_LEVELS[1]), bg: "#ff0000", fg: "#fff"},
  {y: yMain.apply(LAST_PRICE), text: f1(LAST_PRICE), sub: COUNTDOWN, bg: "#6aa583", fg: "#fff", subfg: "#e3f1e8"},
  {y: yMain.apply(LAST_MA200), name: "MA", text: f1(LAST_MA200), bg: "#ff9800", fg: "#131722"},
  {y: yMain.apply(GREEN_DASHED_LEVELS[0]), text: f1(GREEN_DASHED_LEVELS[0]), bg: "#4caf50", fg: "#fff"},
  {y: yMain.apply(LAST_EMA20), name: "EMA", text: f1(LAST_EMA20), bg: "#f57f17", fg: "#fff"},
  {y: yMain.apply(LAST_MA50), name: "MA", text: f1(LAST_MA50), bg: "#1976d2", fg: "#fff"},
  {y: yMain.apply(GREEN_SOLID_LEVELS[0]), text: f1(GREEN_SOLID_LEVELS[0]), bg: "#4caf50", fg: "#fff"},
  {y: yMain.apply(SESSION_LOW), name: "Low", text: f1(SESSION_LOW), bg: "#e3eefb", fg: "#131722"},
  {y: yMain.apply(PRICE_DOMAIN[0] + VOLUME[VOLUME.length - 1] / VOL_PER_UNIT) + 6, name: "Volume", text: LAST_VOLUME_TEXT, bg: "#26a69a", fg: "#fff"}
], "down");
drawLabels(RSI_TOP, RSI_H, [
  {y: yRsi.apply(LAST_RSI), name: "RSI", text: f2(LAST_RSI), bg: "#fbc02d", fg: "#131722"},
  {y: yRsi.apply(LAST_RSI_EMA), name: "EMA:MA", text: f2(LAST_RSI_EMA), bg: "#787b86", fg: "#fff"}
], "down");
drawLabels(MACD_TOP, MACD_H - TIME_H, [
  {y: yMacd.apply(LAST_MACD), name: "MACD", text: f1(LAST_MACD), bg: "#2196f3", fg: "#fff"},
  {y: yMacd.apply(LAST_SIGNAL), name: "Signal", text: f1(LAST_SIGNAL), bg: "#ff6d00", fg: "#fff"},
  {y: yMacd.apply(LAST_HIST), name: "Histogram", text: f1(LAST_HIST), bg: "#4caf50", fg: "#fff"}
], "up");

// ---------------- legends & texts ----------------
el("div", `position:absolute;left:31px;top:104px;font-size:22px;line-height:34px;color:#555;white-space:nowrap;`,
  LEGEND_MAIN.map((t, k) => k === 0 ? `<div style="font-weight:bold;color:#4a4a4a">${t}</div>` : `<div>${t}</div>`).join(""));
el("div", `position:absolute;left:31px;top:1658px;font-size:22px;line-height:34px;color:#555;white-space:nowrap;`,
  LEGEND_RSI.map(t => `<div>${t}</div>`).join(""));
el("div", `position:absolute;left:31px;top:1937px;font-size:22px;line-height:34px;color:#555;white-space:nowrap;`,
  LEGEND_MACD.map(t => `<div>${t}</div>`).join(""));

el("div", `position:absolute;left:13px;top:10px;font-size:21px;line-height:30px;color:#131722;white-space:nowrap;`,
  `<b>${HEADER_1[0]}</b>${HEADER_1[1]}`);
const teal = s => `<span style="color:#26a69a">${s}</span>`;
el("div", `position:absolute;left:13px;top:43px;font-size:21px;line-height:30px;color:#131722;white-space:nowrap;`,
  `<b style="letter-spacing:0.5px">${SYMBOL}</b> ${QUOTE.last} ${teal("▲")} ${QUOTE.change} <b>O:</b>${teal(QUOTE.O)} <b>H:</b>${teal(QUOTE.H)} <b>L:</b>${teal(QUOTE.L)} <b>C:</b>${teal(QUOTE.C)}`);

el("div", `position:absolute;left:1640px;top:945px;font-family:Inter,Roboto,sans-serif;font-size:46px;line-height:52px;font-weight:700;color:#131722;white-space:nowrap;`, ANNOTATION);

// footer logo
el("div", `position:absolute;left:13px;top:2240px;width:42px;height:30px;`,
  `<svg width="42" height="30" viewBox="0 0 42 30"><path d="M0 3h15v24h-7.5v-16.5H0z" fill="#131722"/><circle cx="21" cy="7" r="4" fill="#131722"/><path d="M29 3h12l-10 24h-8.5z" fill="#131722"/></svg>`);
el("div", `position:absolute;left:60px;top:2237px;font-family:Inter,Roboto,sans-serif;font-size:31px;line-height:36px;font-weight:700;color:#131722;white-space:nowrap;letter-spacing:-0.3px;`, "TradingView");
</script>
</body>
</html>
